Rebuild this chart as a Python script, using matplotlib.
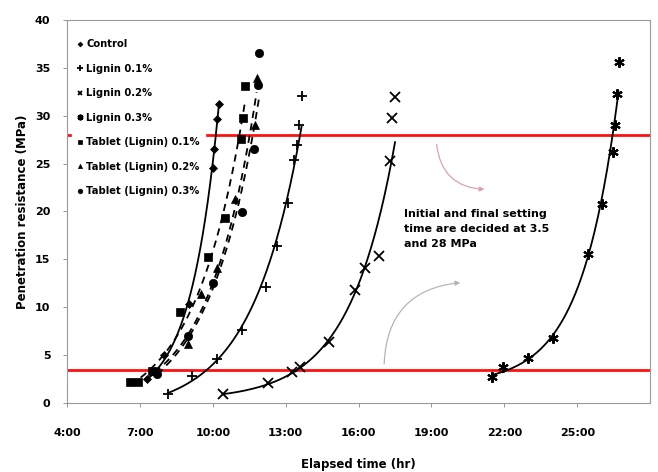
import numpy as np
import matplotlib
matplotlib.use("Agg")
import matplotlib.pyplot as plt
from matplotlib.lines import Line2D

plt.rcParams['font.family'] = ['DejaVu Sans']

# ---------------- data (hours, MPa) ----------------
control_x = [7.3, 7.7, 8.0, 9.0, 10.0, 10.05, 10.15, 10.25]
control_y = [2.5, 3.3, 5.0, 10.3, 24.5, 26.5, 29.6, 31.2]

lig01_x = [8.15, 9.15, 10.15, 11.2, 12.2, 12.65, 13.1, 13.35, 13.45, 13.55, 13.65]
lig01_y = [1.0, 2.8, 4.6, 7.6, 12.1, 16.4, 20.9, 25.4, 26.9, 29.0, 32.1]

lig02_x = [10.4, 12.27, 13.26, 13.6, 14.8, 15.85, 16.26, 16.85, 17.3, 17.37, 17.5]
lig02_y = [0.9, 2.1, 3.2, 3.8, 6.4, 11.8, 14.1, 15.4, 25.3, 29.8, 31.9]

lig03_x = [21.5, 21.95, 22.97, 24.0, 25.44, 26.0, 26.47, 26.55, 26.63, 26.7]
lig03_y = [2.7, 3.75, 4.7, 6.8, 15.6, 20.8, 26.2, 29.0, 32.3, 35.6]

tab01_x = [6.6, 6.9, 7.5, 8.65, 9.8, 10.5, 11.16, 11.24, 11.33]
tab01_y = [2.2, 2.2, 3.3, 9.5, 15.2, 19.3, 27.6, 29.8, 33.1]

tab02_x = [7.6, 8.98, 9.5, 10.17, 10.9, 11.75, 11.8]
tab02_y = [3.3, 6.2, 11.4, 14.1, 21.3, 29.0, 33.9]

tab03_x = [7.7, 8.98, 10.0, 11.2, 11.7, 11.85, 11.9]
tab03_y = [3.0, 7.0, 12.5, 19.9, 26.5, 33.2, 36.5]

labels = ["Control", "Lignin 0.1%", "Lignin 0.2%", "Lignin 0.3%",
          "Tablet (Lignin) 0.1%", "Tablet (Lignin) 0.2%", "Tablet (Lignin) 0.3%"]
xticks_h = [4, 7, 10, 13, 16, 19, 22, 25]
xtick_labels = [f"{h}:00" for h in xticks_h]
yticks = [0, 5, 10, 15, 20, 25, 30, 35, 40]
setting_levels = [3.5, 28]

series = [
    (control_x, control_y, dict(marker='D', ms=4.5, mew=0.5), '-'),
    (lig01_x, lig01_y, dict(marker='+', ms=7, mew=1.3), '-'),
    (lig02_x, lig02_y, dict(marker='x', ms=6.5, mew=1.3), '-'),
    (lig03_x, lig03_y, dict(marker=(6, 2, 0), ms=7.5, mew=1.5), '-'),
    (tab01_x, tab01_y, dict(marker='s', ms=6, mew=0.5), '--'),
    (tab02_x, tab02_y, dict(marker='^', ms=5.5, mew=0.5), '--'),
    (tab03_x, tab03_y, dict(marker='o', ms=6, mew=0.5), '--'),
]


def exp_fit(xs, ys):
    """Weighted least-squares fit of y = a*exp(b*(x-x0)) + c (grid over b)."""
    x0 = xs.min()
    w = 1.0 / ys
    best = None
    for b in np.linspace(0.05, 4.0, 1500):
        A = np.column_stack([np.exp(b * (xs - x0)), np.ones_like(xs)])
        coef, *_ = np.linalg.lstsq(A * w[:, None], ys * w, rcond=None)
        r = np.sum(((A @ coef - ys) * w) ** 2)
        if best is None or r < best[0]:
            best = (r, b, coef)
    _, b, (a, c) = best
    return lambda x: a * np.exp(b * (x - x0)) + c


fig = plt.figure(figsize=(6.58, 4.72), dpi=100)
ax = fig.add_axes([0.102, 0.146, 0.886, 0.812])

for lvl in setting_levels:
    ax.axhline(lvl, color='#ff1010', lw=2.0, zorder=2)

for (xs, ys, mk, ls) in series:
    xs = np.array(xs); ys = np.array(ys)
    f = exp_fit(xs, ys)
    xx = np.linspace(xs.min(), xs.max(), 200)
    yy = f(xx)
    ax.plot(xx, yy, ls, color='black', lw=1.3, zorder=3,
            dashes=(4, 3) if ls == '--' else (None, None))
    ax.plot(xs, ys, ls='none', color='black', mec='black', zorder=4, **mk)

# annotation
ax.text(17.88, 20.3, "Initial and final setting\ntime are decided at 3.5\nand 28 MPa",
        fontsize=8, fontweight='bold', ha='left', va='top', linespacing=1.65, zorder=5)
ax.annotate("", xy=(21.3, 22.3), xytext=(19.2, 27.3),
            arrowprops=dict(arrowstyle='-|>', color='#d9a3ad', lw=0.9,
                            connectionstyle='arc3,rad=0.45', mutation_scale=7))
ax.annotate("", xy=(20.3, 12.6), xytext=(17.05, 3.8),
            arrowprops=dict(arrowstyle='-|>', color='#b5b5b5', lw=0.9,
                            connectionstyle='arc3,rad=-0.45', mutation_scale=7))

ax.set_xlim(4, 28)
ax.set_ylim(0, 40)
ax.set_xticks(xticks_h)
ax.set_xticklabels(xtick_labels)
ax.set_yticks(yticks)
for lab in ax.get_xticklabels() + ax.get_yticklabels():
    lab.set_fontweight('bold')
    lab.set_fontsize(8)
ax.tick_params(axis='both', length=3, width=0.6, color='#888888')
ax.tick_params(axis='x', pad=15)
ax.tick_params(axis='y', pad=9)
for sp in ax.spines.values():
    sp.set_color('#999999')
    sp.set_linewidth(0.8)

ax.set_xlabel("Elapsed time (hr)", fontsize=8.5, fontweight='bold', labelpad=14)
ax.set_ylabel("Penetration resistance (MPa)", fontsize=8.5, fontweight='bold', labelpad=4)

handles = [Line2D([], [], ls='none', color='black', **{**mk, 'ms': mk['ms'] * 0.55})
           for (_, _, mk, _) in series]
leg = ax.legend(handles, labels, loc='upper left', bbox_to_anchor=(0.0, 0.975),
                frameon=True, fancybox=False, edgecolor='white', facecolor='white',
                framealpha=1.0, handlelength=0.6, handletextpad=0.3,
                labelspacing=1.45, borderpad=0.5, prop=dict(size=7.2, weight='bold'))
leg.set_zorder(6)

fig.savefig("out.png", dpi=100, facecolor='white')
